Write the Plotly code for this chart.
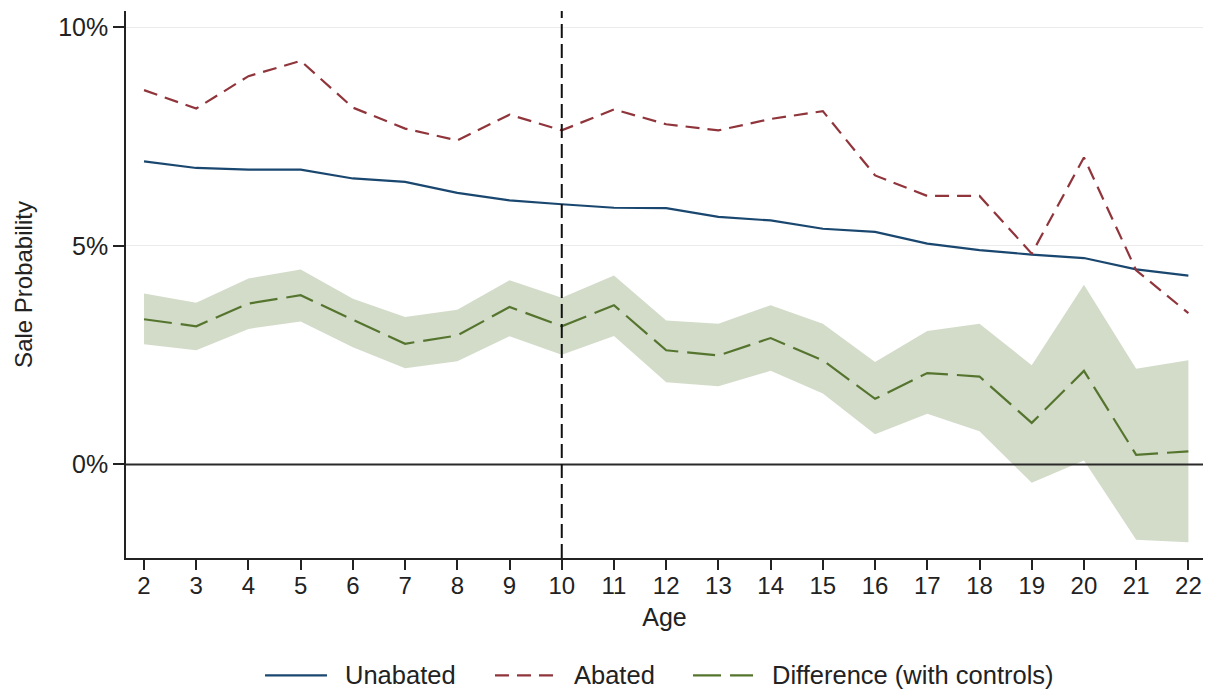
import plotly.graph_objects as go

# Sale probability (%) by age
ages = list(range(2, 23))
unabated = [6.93, 6.78, 6.74, 6.74, 6.54, 6.46, 6.21, 6.04, 5.95, 5.87, 5.86,
            5.66, 5.58, 5.39, 5.32, 5.05, 4.90, 4.80, 4.72, 4.46, 4.32]
abated = [8.56, 8.14, 8.88, 9.23, 8.16, 7.68, 7.41, 8.00, 7.64, 8.12, 7.78,
          7.64, 7.90, 8.08, 6.61, 6.14, 6.14, 4.82, 7.02, 4.44, 3.46]
diff = [3.32, 3.16, 3.68, 3.87, 3.31, 2.76, 2.95, 3.60, 3.16, 3.64, 2.61,
        2.49, 2.89, 2.38, 1.50, 2.09, 2.01, 0.95, 2.14, 0.22, 0.30]
diff_hi = [3.91, 3.70, 4.25, 4.46, 3.79, 3.37, 3.54, 4.21, 3.81, 4.32, 3.29,
           3.22, 3.64, 3.22, 2.34, 3.05, 3.22, 2.27, 4.11, 2.19, 2.38]
diff_lo = [2.75, 2.61, 3.10, 3.27, 2.68, 2.20, 2.36, 2.93, 2.51, 2.94, 1.88,
           1.79, 2.14, 1.62, 0.69, 1.16, 0.76, -0.42, 0.09, -1.72, -1.78]

series_names = ["Unabated", "Abated", "Difference (with controls)"]
navy = "#1a476f"
maroon = "#90353b"
green = "#55752f"
dashes = ["solid", "14px,8px", "28px,9px"]
colors = [navy, maroon, green]

fig = go.Figure()

# confidence band for the difference
fig.add_trace(go.Scatter(x=ages, y=diff_hi, mode="lines", line=dict(width=0),
                         showlegend=False, hoverinfo="skip"))
fig.add_trace(go.Scatter(x=ages, y=diff_lo, mode="lines", line=dict(width=0),
                         fill="tonexty", fillcolor="rgba(85,117,47,0.26)",
                         showlegend=False, hoverinfo="skip"))

for name, ys, c, d in zip(series_names, [unabated, abated, diff], colors, dashes):
    fig.add_trace(go.Scatter(x=ages, y=ys, mode="lines", name=name,
                             line=dict(color=c, width=2.2, dash=d), showlegend=False))

# zero line and cutoff at age 10
fig.add_shape(type="line", xref="paper", x0=0, x1=1, yref="y", y0=0, y1=0,
              line=dict(color="#2a2a2a", width=2), layer="above")
fig.add_shape(type="line", xref="x", x0=10, x1=10, yref="paper", y0=0, y1=1.0,
              line=dict(color="#111111", width=2, dash="14px,6px"), layer="above")

# legend drawn by hand so the samples are long like the original
leg_y = -0.2146
leg_x = [(0.1291, 0.1866, 0.2015), (0.3426, 0.3983, 0.4141), (0.5265, 0.5822, 0.5980)]
for (x0, x1, xt), name, c, d in zip(leg_x, series_names, colors, dashes):
    fig.add_shape(type="line", xref="paper", yref="paper", x0=x0, x1=x1, y0=leg_y, y1=leg_y,
                  line=dict(color=c, width=2.2, dash=d))
    fig.add_annotation(xref="paper", yref="paper", x=xt, y=leg_y, text=name,
                       showarrow=False, xanchor="left", yanchor="middle",
                       font=dict(size=25.5))

font = "Liberation Sans, Arial, sans-serif"

fig.update_layout(
    width=1208, height=691,
    margin=dict(l=126, r=5, t=11, b=133),
    plot_bgcolor="white", paper_bgcolor="white",
    font=dict(family=font, size=24, color="#222222"),
    showlegend=False,
    xaxis=dict(
        range=[1.655, 22.28], tickmode="array", tickvals=ages,
        ticks="outside", ticklen=10, tickcolor="#222222", tickwidth=1.5,
        ticklabelstandoff=-5, tickfont=dict(size=24),
        showline=True, linecolor="#222222", linewidth=1.5,
        showgrid=False, zeroline=False, automargin=False,
        title=dict(text="Age", standoff=11, font=dict(size=25)),
    ),
    yaxis=dict(
        range=[-2.14, 10.37], tickmode="array", tickvals=[0, 5, 10],
        ticktext=["0%", "5%", "10%"], tickfont=dict(size=25),
        ticks="outside", ticklen=11, tickcolor="#222222", tickwidth=1.5,
        showline=True, linecolor="#222222", linewidth=1.5,
        showgrid=True, gridcolor="#ebebeb", gridwidth=1, zeroline=False, automargin=False,
        title=dict(text="Sale Probability", standoff=19, font=dict(size=24)),
    ),
)

# drop the default page margin so the figure sits at the window corner
fig.write_html("out.html", config={"displayModeBar": False},
               post_script="document.body.style.margin='0';")
